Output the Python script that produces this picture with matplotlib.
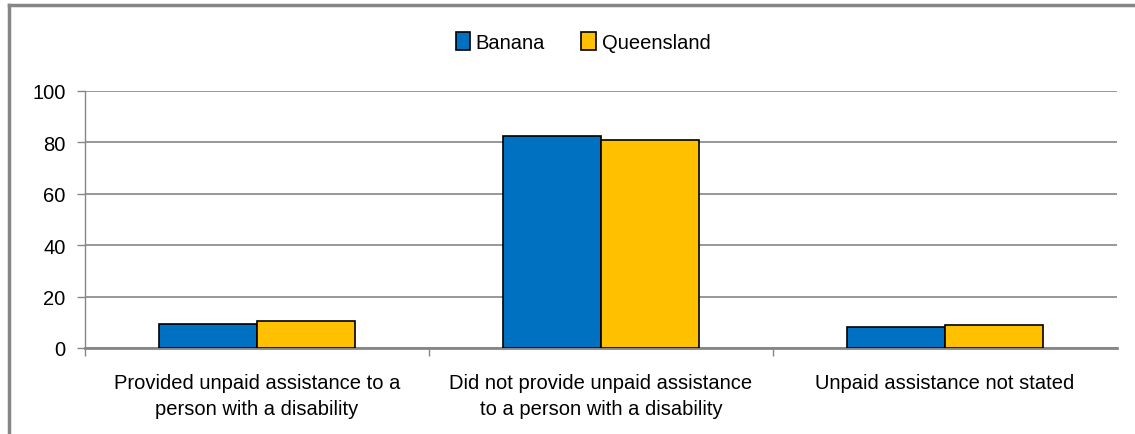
import matplotlib
matplotlib.use("Agg")
import matplotlib.pyplot as plt
import numpy as np
from matplotlib.lines import Line2D
from matplotlib.ticker import FixedLocator

categories = ["Provided unpaid assistance to a\nperson with a disability",
              "Did not provide unpaid assistance\nto a person with a disability",
              "Unpaid assistance not stated"]
series_names = ["Banana", "Queensland"]
banana = [9.3, 82.5, 8.2]
queensland = [10.5, 80.9, 8.9]
yticks = [0, 20, 40, 60, 80, 100]

plt.rcParams['font.family'] = ['Liberation Sans', 'DejaVu Sans']

fig = plt.figure(figsize=(11.35, 4.35), dpi=100)
# outer frame (left and top edges visible)
fig.lines.append(Line2D([9/1135, 9/1135], [0, 1 - 6/435], transform=fig.transFigure,
                        color='#868686', linewidth=2.5))
fig.lines.append(Line2D([9/1135, 1], [1 - 6/435, 1 - 6/435], transform=fig.transFigure,
                        color='#868686', linewidth=2.5))

ax = fig.add_axes([85/1135, 1 - 349/435, (1117-85)/1135, (349-92)/435])
x = np.arange(len(categories))
w = 0.285
ax.bar(x - w/2, banana, w, color='#0070C0', edgecolor='black', linewidth=1.2, label=series_names[0], zorder=3)
ax.bar(x + w/2, queensland, w, color='#FFC000', edgecolor='black', linewidth=1.2, label=series_names[1], zorder=3)

ax.set_xlim(-0.5, 2.5)
ax.set_ylim(0, 100)
ax.set_yticks(yticks)
ax.set_yticklabels([str(t) for t in yticks], fontsize=14.5)
ax.yaxis.grid(True, color='#868686', linewidth=1.2, zorder=0)
ax.set_axisbelow(True)

ax.set_xticks(x)
ax.set_xticklabels(categories, fontsize=14.5, linespacing=1.45)
ax.tick_params(axis='x', length=0, pad=18)
ax.xaxis.set_minor_locator(FixedLocator([-0.5, 0.5, 1.5]))
ax.tick_params(axis='x', which='minor', length=6, color='#868686', width=1)
ax.tick_params(axis='y', length=6, color='#868686', width=1, pad=8)

for s in ['top', 'right']:
    ax.spines[s].set_visible(False)
ax.spines['left'].set_color('#868686')
ax.spines['bottom'].set_color('#868686')
ax.spines['bottom'].set_linewidth(2)
ax.spines['left'].set_linewidth(1)

leg = fig.legend(loc='center', bbox_to_anchor=(583/1135, 1 - 43/435), ncol=2, frameon=False,
                 fontsize=14.5, handlelength=0.7, handleheight=1.0, handletextpad=0.3, columnspacing=1.8)

fig.savefig("out.png", dpi=100)
